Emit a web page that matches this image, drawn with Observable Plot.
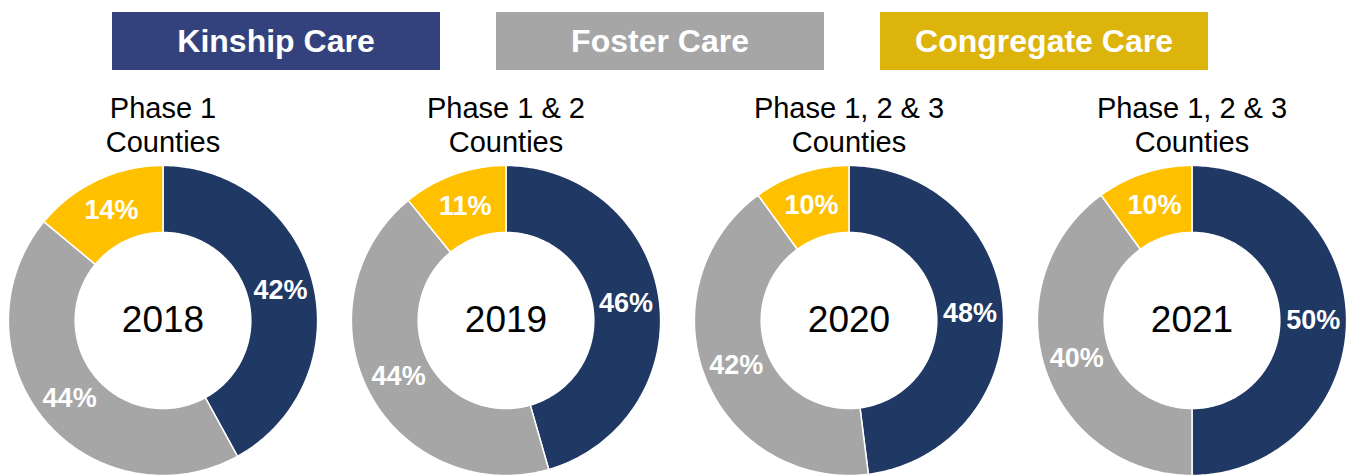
<!DOCTYPE html>
<html>
<head>
<meta charset="utf-8">
<script src="https://cdn.jsdelivr.net/npm/d3@7"></script>
<script src="https://cdn.jsdelivr.net/npm/@observablehq/plot@0.6"></script>
<style>
  html, body { margin: 0; padding: 0; background: #fff; }
  body { font-family: "Liberation Sans", Arial, sans-serif; width: 1348px; height: 476px; overflow: hidden; }
  #legend { display: flex; height: 80px; box-sizing: border-box; padding-top: 12px; padding-left: 112px; gap: 56px; }
  .item { width: 328px; height: 58px; display: flex; align-items: center; justify-content: center;
          color: #fff; font-weight: bold; font-size: 32px; }
  #chart svg { display: block; }
</style>
</head>
<body>
<div id="legend"></div>
<div id="chart"></div>
<script>
// ---- data ----
const years = ["2018", "2019", "2020", "2021"];
const titles = ["Phase 1\nCounties", "Phase 1 & 2\nCounties", "Phase 1, 2 & 3\nCounties", "Phase 1, 2 & 3\nCounties"];
const categories = ["Kinship Care", "Foster Care", "Congregate Care"];
const kinship = [42, 46, 48, 50];
const foster = [44, 44, 42, 40];
const congregate = [14, 11, 10, 10];

// ---- styles ----
const sliceColors = ["#203864", "#A6A6A6", "#FFC000"];
const legendColors = ["#33427D", "#A6A6A6", "#DDB40B"];

// legend
const legend = document.getElementById("legend");
categories.forEach((c, i) => {
  const d = document.createElement("div");
  d.className = "item";
  d.style.background = legendColors[i];
  d.textContent = c;
  legend.appendChild(d);
});

// geometry (in units of the outer radius)
const OUTER = 1, INNER = 0.568, LABEL_R = 0.784;
const series = [kinship, foster, congregate];
const rows = [];
const labels = [];
years.forEach((yr, i) => {
  const vals = series.map(s => s[i]);
  const total = d3.sum(vals);
  let a0 = 0;
  vals.forEach((v, j) => {
    const a1 = a0 + v / total * 2 * Math.PI;
    const id = yr + "-" + j;
    const n = Math.max(2, Math.ceil((a1 - a0) / (Math.PI / 180)));
    for (let k = 0; k <= n; k++) {
      const a = a0 + (a1 - a0) * k / n;
      rows.push({year: yr, cat: categories[j], id, x: OUTER * Math.sin(a), y: OUTER * Math.cos(a)});
    }
    for (let k = n; k >= 0; k--) {
      const a = a0 + (a1 - a0) * k / n;
      rows.push({year: yr, cat: categories[j], id, x: INNER * Math.sin(a), y: INNER * Math.cos(a)});
    }
    const am = (a0 + a1) / 2;
    labels.push({year: yr, text: v + "%", x: LABEL_R * Math.sin(am), y: LABEL_R * Math.cos(am)});
    a0 = a1;
  });
});

const W = 1348, H = 396, R = 155, CY = 240;
const step = 343.9;
const D = step / 2 / R;

const chart = Plot.plot({
  width: W,
  height: H,
  marginTop: 0,
  marginBottom: 0,
  marginLeft: -11,
  marginRight: -16.5,
  style: {fontFamily: "'Liberation Sans', Arial, sans-serif", background: "#fff"},
  fx: {domain: years, padding: 0, axis: null},
  x: {domain: [-D, D], axis: null},
  y: {domain: [-(H - CY) / R, CY / R], axis: null},
  color: {domain: categories, range: sliceColors},
  marks: [
    Plot.line(rows, {x: "x", y: "y", z: "id", fx: "year", fill: "cat", stroke: "white", strokeWidth: 1.5, curve: "linear-closed"}),
    Plot.text(labels, {x: "x", y: "y", fx: "year", text: "text", fill: "white", fontWeight: "bold", fontSize: 27}),
    Plot.text(years, {fx: d => d, x: () => 0, y: () => 0, text: d => d, fontSize: 37, fill: "black"}),
    Plot.text(titles, {fx: (d, i) => years[i], text: d => d, frameAnchor: "top", lineAnchor: "top", dy: 14, fontSize: 29, lineHeight: 1.16, fill: "black"})
  ]
});
document.getElementById("chart").appendChild(chart);
</script>
</body>
</html>
